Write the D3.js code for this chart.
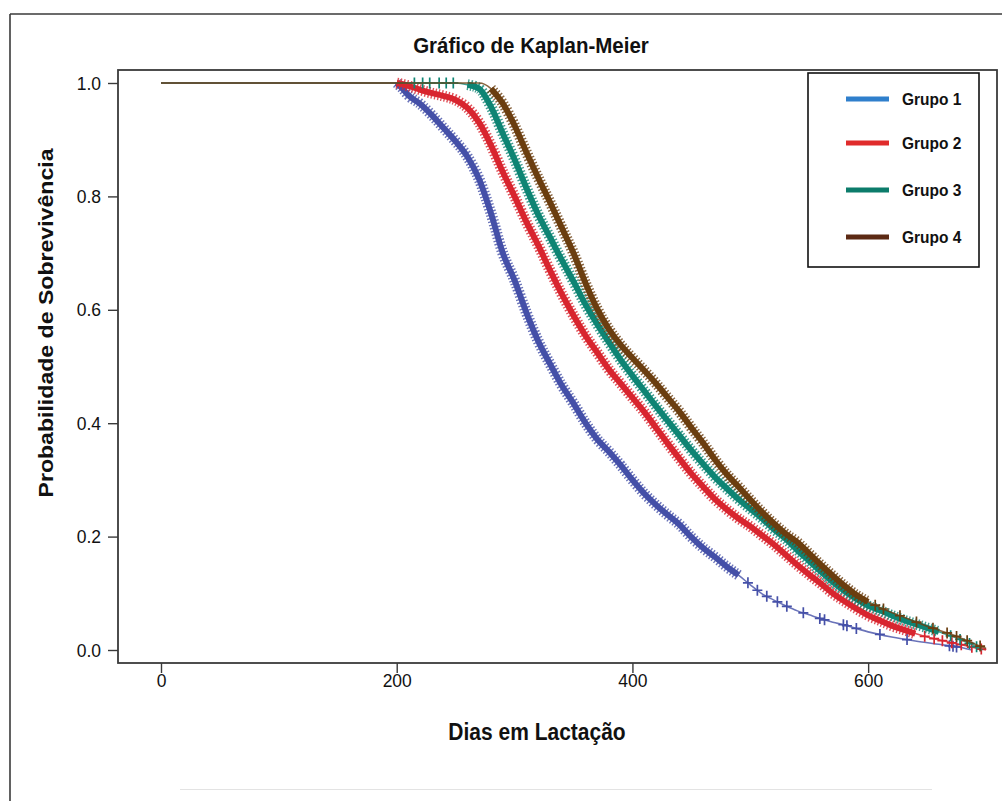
<!DOCTYPE html>
<html>
<head>
<meta charset="utf-8">
<script src="https://cdn.jsdelivr.net/npm/d3@7"></script>
<style>
  html, body { margin: 0; padding: 0; background: #fff; }
  svg { display: block; }
  text { font-family: "Liberation Sans", Arial, Helvetica, sans-serif; fill: #111; }
</style>
</head>
<body>
<svg id="chart" width="1002" height="801"></svg>
<script>
// Kaplan-Meier survival estimates by group (days in milk, survival probability)
const groupNames = ["Grupo 1", "Grupo 2", "Grupo 3", "Grupo 4"];

const g1Days = [0, 200, 205, 210, 220, 230, 240, 250, 260, 270, 280, 290, 300, 310, 320, 330, 340, 350, 360, 370, 380, 390, 400, 410, 420, 430, 440, 450, 460, 470, 480, 490, 500, 510, 520, 530, 540, 550, 560, 570, 580, 590, 600, 620, 640, 660, 680, 688];
const g1Surv = [1, 1, 0.99, 0.978, 0.963, 0.943, 0.92, 0.897, 0.87, 0.83, 0.77, 0.70, 0.652, 0.595, 0.545, 0.505, 0.467, 0.435, 0.401, 0.372, 0.35, 0.326, 0.300, 0.276, 0.256, 0.238, 0.221, 0.199, 0.18, 0.164, 0.147, 0.132, 0.115, 0.099, 0.088, 0.078, 0.069, 0.062, 0.055, 0.049, 0.044, 0.038, 0.032, 0.023, 0.016, 0.010, 0.004, 0];

const g2Days = [0, 200, 210, 220, 230, 240, 250, 260, 270, 280, 290, 300, 310, 320, 330, 340, 350, 360, 370, 380, 390, 400, 410, 420, 430, 440, 450, 460, 470, 480, 490, 500, 510, 520, 530, 540, 550, 560, 570, 580, 590, 600, 610, 620, 630, 640, 650, 660, 670, 680, 690, 700];
const g2Surv = [1, 1, 0.995, 0.988, 0.982, 0.977, 0.97, 0.956, 0.93, 0.89, 0.843, 0.80, 0.755, 0.714, 0.67, 0.628, 0.59, 0.555, 0.525, 0.495, 0.47, 0.445, 0.42, 0.392, 0.364, 0.337, 0.311, 0.288, 0.266, 0.248, 0.232, 0.218, 0.202, 0.186, 0.168, 0.15, 0.133, 0.117, 0.10, 0.086, 0.073, 0.061, 0.052, 0.043, 0.036, 0.029, 0.023, 0.018, 0.013, 0.009, 0.004, 0];

const g3Days = [0, 210, 250, 260, 270, 280, 290, 300, 310, 320, 330, 340, 350, 360, 370, 380, 390, 400, 410, 420, 430, 440, 450, 460, 470, 480, 490, 500, 510, 520, 530, 540, 550, 560, 570, 580, 590, 600, 610, 620, 630, 640, 650, 660, 670, 680, 690, 697];
const g3Surv = [1, 1, 1, 0.997, 0.99, 0.958, 0.911, 0.865, 0.815, 0.768, 0.728, 0.688, 0.65, 0.61, 0.575, 0.543, 0.512, 0.484, 0.457, 0.43, 0.404, 0.378, 0.352, 0.328, 0.305, 0.285, 0.266, 0.249, 0.232, 0.213, 0.196, 0.176, 0.157, 0.138, 0.12, 0.104, 0.09, 0.078, 0.07, 0.061, 0.053, 0.046, 0.039, 0.032, 0.025, 0.017, 0.008, 0];

const g4Days = [0, 270, 280, 290, 300, 310, 320, 330, 340, 350, 360, 370, 380, 390, 400, 410, 420, 430, 440, 450, 460, 470, 480, 490, 500, 510, 520, 530, 540, 550, 560, 570, 580, 590, 600, 610, 620, 630, 640, 650, 660, 670, 680, 690, 700];
const g4Surv = [1, 1, 0.99, 0.964, 0.925, 0.878, 0.833, 0.79, 0.745, 0.70, 0.648, 0.602, 0.566, 0.538, 0.515, 0.493, 0.47, 0.445, 0.42, 0.392, 0.365, 0.336, 0.31, 0.288, 0.265, 0.243, 0.223, 0.205, 0.19, 0.17, 0.15, 0.131, 0.113, 0.097, 0.085, 0.075, 0.066, 0.058, 0.05, 0.042, 0.035, 0.028, 0.02, 0.011, 0.003];

// Span (days) where censored observations are so dense they merge into a band
const denseSpans = [[200, 490], [200, 640], [255, 665], [272, 600]];

// Individually visible censored observations (days)
const g1Censor = [498, 506, 514, 523, 531, 545, 559, 563, 579, 582, 590, 610, 633, 669, 672, 675];
const g2Censor = [648, 656, 663, 671, 679, 688, 696];
const g3Censor = [215, 222, 228, 236, 242, 248, 670, 678, 686, 692];
const g4Censor = [606, 613, 627, 641, 655, 667, 675, 684, 695];

const xTicks = [0, 200, 400, 600];
const yTicks = [0.0, 0.2, 0.4, 0.6, 0.8, 1.0];

const curveColors = ["#4550a8", "#d8262f", "#0f8574", "#6b3e10"];
const legendColors = ["#2f7fcc", "#e02b2b", "#0c7c6b", "#5c2a14"];

const series = [
  { days: g1Days, surv: g1Surv, censor: g1Censor },
  { days: g2Days, surv: g2Surv, censor: g2Censor },
  { days: g3Days, surv: g3Surv, censor: g3Censor },
  { days: g4Days, surv: g4Surv, censor: g4Censor }
].map((s, i) => ({
  name: groupNames[i],
  span: denseSpans[i],
  censor: s.censor,
  points: s.days.map((d, k) => ({ day: d, s: s.surv[k] }))
}));

const svg = d3.select("#chart");

// Plot frame
const frame = { left: 118, right: 997, top: 70, bottom: 663 };

const x = d3.scaleLinear().domain([0, 700]).range([161, 986]);
const y = d3.scaleLinear().domain([0, 1]).range([650, 83]);

// Outer border lines
svg.append("line").attr("x1", 10).attr("x2", 10).attr("y1", 14).attr("y2", 801)
  .attr("stroke", "#3a3a3a").attr("stroke-width", 1.6);
svg.append("line").attr("x1", 10).attr("x2", 1002).attr("y1", 14).attr("y2", 14)
  .attr("stroke", "#3a3a3a").attr("stroke-width", 1.6);
// faint rule near the bottom
svg.append("line").attr("x1", 180).attr("x2", 932).attr("y1", 789.5).attr("y2", 789.5)
  .attr("stroke", "#e3e3e3").attr("stroke-width", 1.2);

// Title
svg.append("text")
  .attr("transform", "translate(531,53) scale(1,1.1)")
  .attr("text-anchor", "middle")
  .attr("font-size", 20.5).attr("font-weight", "bold")
  .text("Gráfico de Kaplan-Meier");

// Curves
const line = d3.line().x(d => x(d.day)).y(d => y(d.s)).curve(d3.curveMonotoneX);
const curveG = svg.append("g");

series.forEach((s, i) => {
  const c = curveColors[i];
  const dense = s.points.filter(p => p.day >= s.span[0] && p.day <= s.span[1]);
  // solid core of the dense censoring band
  curveG.append("path").attr("d", line(dense)).attr("fill", "none")
    .attr("stroke", c).attr("stroke-width", 6).attr("stroke-linejoin", "round");
  // cross bars of the censoring marks
  curveG.append("path").attr("d", line(dense)).attr("fill", "none")
    .attr("stroke", c).attr("stroke-width", 11).attr("stroke-dasharray", "1.4,1.9")
    .attr("opacity", 0.8);
  // estimate line over the whole follow-up
  curveG.append("path").attr("d", line(s.points)).attr("fill", "none")
    .attr("stroke", c).attr("stroke-width", 1.6).attr("stroke-linejoin", "round")
    .attr("opacity", 0.8);
  // individually visible censor marks
  const interp = d => {
    const pts = s.points;
    for (let k = 1; k < pts.length; k++) {
      if (d <= pts[k].day) {
        const a = pts[k - 1], b = pts[k];
        const t = (d - a.day) / (b.day - a.day);
        return a.s + t * (b.s - a.s);
      }
    }
    return pts[pts.length - 1].s;
  };
  s.censor.forEach(d => {
    const cx = x(d), cy = y(interp(d));
    curveG.append("path")
      .attr("d", `M${cx - 5},${cy}H${cx + 5}M${cx},${cy - 5.5}V${cy + 5.5}`)
      .attr("stroke", c).attr("stroke-width", 1.7).attr("fill", "none");
  });
});

// Frame drawn after curves
svg.append("rect")
  .attr("x", frame.left).attr("y", frame.top)
  .attr("width", frame.right - frame.left).attr("height", frame.bottom - frame.top)
  .attr("fill", "none").attr("stroke", "#3a3a3a").attr("stroke-width", 1.8);

// Axes
const yAxis = svg.append("g").attr("transform", `translate(${frame.left},0)`)
  .call(d3.axisLeft(y).tickValues(yTicks).tickFormat(d3.format(".1f")).tickSize(10).tickPadding(7));
const xAxis = svg.append("g").attr("transform", `translate(0,${frame.bottom})`)
  .call(d3.axisBottom(x).tickValues(xTicks).tickFormat(d3.format("d")).tickSize(10).tickPadding(8));

[yAxis, xAxis].forEach(ax => {
  ax.select(".domain").remove();
  ax.selectAll(".tick line").attr("stroke", "#3a3a3a").attr("stroke-width", 1.4);
  ax.selectAll(".tick text")
    .attr("font-family", "'Liberation Sans', Arial, sans-serif")
    .attr("font-size", 17.5).attr("fill", "#222");
});
yAxis.selectAll(".tick text").attr("transform", "scale(1,1.1)");
xAxis.selectAll(".tick text").attr("transform", "scale(1,1.1)").attr("y", 9);

// Axis titles
svg.append("text")
  .attr("transform", "translate(537,740) scale(1,1.1)")
  .attr("text-anchor", "middle")
  .attr("font-size", 21).attr("font-weight", "bold")
  .text("Dias em Lactação");

svg.append("text")
  .attr("transform", "translate(53,323) rotate(-90) scale(1.1,1)")
  .attr("text-anchor", "middle")
  .attr("font-size", 21).attr("font-weight", "bold")
  .text("Probabilidade de Sobrevivência");

// Legend
const legend = svg.append("g");
legend.append("rect")
  .attr("x", 808).attr("y", 73).attr("width", 171).attr("height", 194)
  .attr("fill", "#fff").attr("stroke", "#111").attr("stroke-width", 1.6);
const legendY = [99, 143, 190, 237];
groupNames.forEach((name, i) => {
  legend.append("line")
    .attr("x1", 846).attr("x2", 889).attr("y1", legendY[i]).attr("y2", legendY[i])
    .attr("stroke", legendColors[i]).attr("stroke-width", 5);
  legend.append("text")
    .attr("transform", `translate(902,${legendY[i] + 6}) scale(1,1.1)`)
    .attr("font-size", 15.5).attr("font-weight", "bold")
    .text(name);
});
</script>
</body>
</html>
